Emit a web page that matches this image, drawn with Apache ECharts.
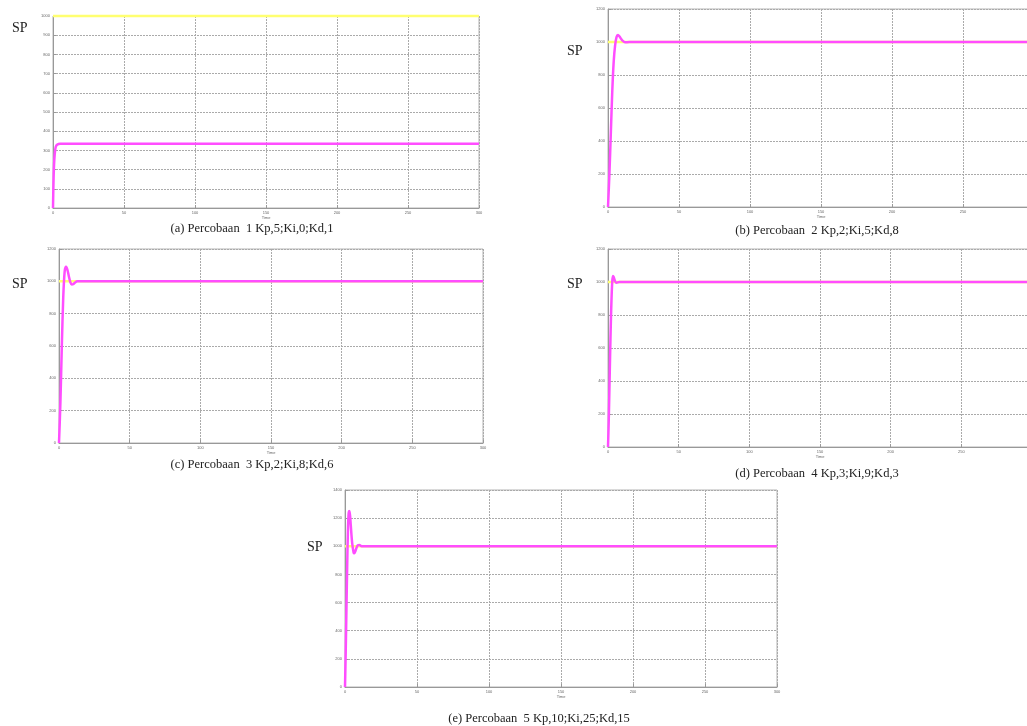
<!DOCTYPE html>
<html>
<head>
<meta charset="utf-8">
<script src="https://cdn.jsdelivr.net/npm/echarts@6/dist/echarts.min.js"></script>
<style>
  html, body { margin: 0; padding: 0; background: #fff; }
  #chart { width: 1027px; height: 726px; }
</style>
</head>
<body>
<div id="chart"></div>
<script>
// set point for every run
const setPoint = 1000;
const timeEnd = 300;

// response of each run, time (s) and value
const timeA = [0, 0.3, 0.6, 1, 1.5, 2, 3, 5, 300];
const respA = [0, 120, 200, 260, 300, 320, 330, 334, 335];

const timeB = [0, 1, 2, 3, 4, 5, 6, 7, 8, 9, 10, 12, 15, 300];
const respB = [0, 200, 450, 700, 880, 980, 1030, 1042, 1035, 1022, 1010, 998, 1000, 1000];

const timeC = [0, 1, 2, 3, 4, 5, 6, 7, 8, 9, 10, 11, 13, 15, 300];
const respC = [0, 250, 600, 900, 1060, 1090, 1070, 1030, 995, 980, 982, 990, 1000, 1000, 1000];

const timeD = [0, 0.5, 1, 1.5, 2, 2.5, 3, 3.5, 4, 5, 6, 8, 300];
const respD = [0, 150, 350, 560, 750, 900, 1000, 1036, 1030, 1005, 995, 1000, 1000];

const timeE = [0, 0.5, 1, 1.5, 2, 2.5, 3, 3.5, 4, 5, 6, 6.5, 7, 8, 9, 10, 11, 12, 300];
const respE = [0, 250, 550, 850, 1100, 1230, 1250, 1220, 1150, 1020, 955, 950, 960, 990, 1008, 1010, 1003, 1000, 1000];

const captions = [
  '(a) Percobaan  1 Kp,5;Ki,0;Kd,1',
  '(b) Percobaan  2 Kp,2;Ki,5;Kd,8',
  '(c) Percobaan  3 Kp,2;Ki,8;Kd,6',
  '(d) Percobaan  4 Kp,3;Ki,9;Kd,3',
  '(e) Percobaan  5 Kp,10;Ki,25;Kd,15'
];
const yMax = [1000, 1200, 1200, 1200, 1400];
const yStep = [100, 200, 200, 200, 200];
const xStep = 50;

const runs = [[timeA, respA], [timeB, respB], [timeC, respC], [timeD, respD], [timeE, respE]];

// layout of the five panels
const grids = [
  { left: 53, top: 16, width: 426, height: 192 },
  { left: 608, top: 9, width: 426, height: 198 },
  { left: 59, top: 249, width: 424, height: 194 },
  { left: 608, top: 249, width: 424, height: 198 },
  { left: 345, top: 490, width: 432, height: 197 }
];
const spPos = [[12, 21], [567, 44], [12, 277], [567, 277], [307, 540]];
const capPos = [[252, 222], [817, 224], [252, 458], [817, 467], [539, 712]];

const myChart = echarts.init(document.getElementById('chart'));

const gridLine = { show: true, lineStyle: { color: '#aaa', type: [2, 1], width: 1 } };
const tinyLabel = { fontSize: 4, color: '#666', margin: 3, formatter: v => String(v) };

const option = {
  backgroundColor: '#fff',
  animation: false,
  grid: grids.map(g => Object.assign({
    show: true,
    borderColor: '#b5b5b5',
    borderWidth: 1,
    containLabel: false,
    outerBoundsMode: 'none'
  }, g)),
  xAxis: grids.map((g, i) => ({
    type: 'value',
    gridIndex: i,
    min: 0,
    max: timeEnd,
    interval: xStep,
    name: 'Time',
    nameLocation: 'middle',
    nameGap: 8,
    nameTextStyle: { fontSize: 4, color: '#666' },
    axisLine: { lineStyle: { color: '#999' } },
    axisTick: { inside: true, length: 3, lineStyle: { color: '#999' } },
    axisLabel: tinyLabel,
    splitLine: gridLine
  })),
  yAxis: grids.map((g, i) => ({
    type: 'value',
    gridIndex: i,
    min: 0,
    max: yMax[i],
    interval: yStep[i],
    axisLine: { show: true, lineStyle: { color: '#999' } },
    axisTick: { show: true, inside: true, length: 3, lineStyle: { color: '#999' } },
    axisLabel: tinyLabel,
    splitLine: gridLine
  })),
  series: [],
  graphic: []
};

runs.forEach((r, i) => {
  option.series.push({
    type: 'line',
    xAxisIndex: i,
    yAxisIndex: i,
    showSymbol: false,
    clip: false,
    data: [[0, setPoint], [timeEnd, setPoint]],
    lineStyle: { color: '#ffff70', width: 2.5 },
    z: 2
  });
  option.series.push({
    type: 'line',
    xAxisIndex: i,
    yAxisIndex: i,
    showSymbol: false,
    smooth: 0.3,
    data: r[0].map((t, k) => [t, r[1][k]]),
    lineStyle: { color: '#ff4dff', width: 2.5 },
    z: 3
  });
  option.graphic.push({
    type: 'text',
    left: spPos[i][0],
    top: spPos[i][1],
    style: { text: 'SP', font: '14px "Liberation Serif", serif', fill: '#222' }
  });
  option.graphic.push({
    type: 'text',
    x: capPos[i][0],
    y: capPos[i][1],
    style: {
      text: captions[i],
      font: '12.5px "Liberation Serif", serif',
      fill: '#222',
      align: 'center'
    }
  });
});

myChart.setOption(option);
window.addEventListener('resize', () => myChart.resize());
</script>
</body>
</html>
